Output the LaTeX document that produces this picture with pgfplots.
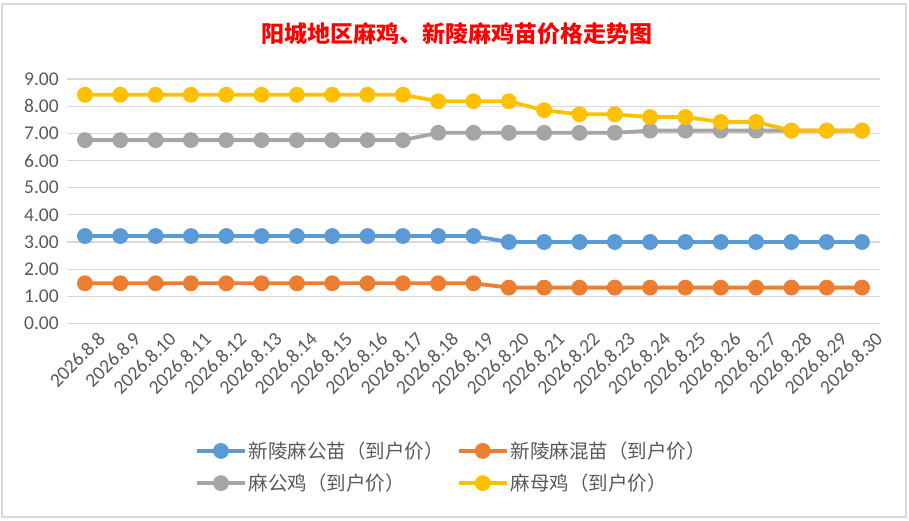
\documentclass[border=0pt]{standalone}
\usepackage{pgfplots}
\pgfplotsset{compat=1.18}
\usepackage{fontspec}
\setmainfont{Carlito}
\newfontfamily\cjk{Noto Sans CJK SC}
\definecolor{cblue}{HTML}{5B9BD5}
\definecolor{corange}{HTML}{ED7D31}
\definecolor{cgray}{HTML}{A5A5A5}
\definecolor{cgold}{HTML}{FFC000}
\definecolor{gridc}{HTML}{D9D9D9}
\definecolor{ticklab}{HTML}{595959}
\begin{document}
\begin{tikzpicture}[x=1pt,y=1pt]
\path (0,0) rectangle (909,521);
\draw[color=gridc, line width=1.5pt] (2,4) rectangle (906,517);
\node[font=\cjk\bfseries\fontsize{23}{23}\selectfont, text=red] at (457,487) {阳城地区麻鸡、新陵麻鸡苗价格走势图};
\begin{axis}[at={(67.3pt,197.5pt)}, anchor=south west, scale only axis,
  width=812.4pt, height=244.5pt,
  xmin=-0.5, xmax=22.5, ymin=0, ymax=9,
  axis line style={draw=none},
  major tick length=0pt,
  ytick={0,1,...,9},
  yticklabel style={/pgf/number format/fixed, /pgf/number format/fixed zerofill, /pgf/number format/precision=2},
  y tick label style={xshift=-5pt},
  xtick={0,...,22},
  xticklabels={2026.8.8,2026.8.9,2026.8.10,2026.8.11,2026.8.12,2026.8.13,2026.8.14,2026.8.15,2026.8.16,2026.8.17,2026.8.18,2026.8.19,2026.8.20,2026.8.21,2026.8.22,2026.8.23,2026.8.24,2026.8.25,2026.8.26,2026.8.27,2026.8.28,2026.8.29,2026.8.30},
  x tick label style={rotate=45, anchor=north east, xshift=7pt, yshift=-10pt},
  tick label style={font=\fontsize{19.5}{19.5}\selectfont, text=ticklab},
  /pgf/number format/assume math mode=true,
  ymajorgrids, grid style={draw=gridc, line width=1.3pt},
  clip=false,
  every axis plot/.append style={line width=3.8pt, mark=*, mark size=6pt},
  legend columns=2,
  legend cell align=left,
  legend style={at={(0.157,-0.475)}, anchor=north west, draw=none, fill=none,
    font=\cjk\fontsize{19.5}{22}\selectfont, text=ticklab,
    /tikz/every even column/.append style={column sep=11pt},
    row sep=10pt, inner sep=0pt},
  legend image code/.code={\draw[mark repeat=2,mark phase=2,#1] plot coordinates {(0pt,0pt) (24pt,0pt) (48pt,0pt)};},
]
\addplot[color=cblue] coordinates {(0,3.22)(1,3.22)(2,3.22)(3,3.22)(4,3.22)(5,3.22)(6,3.22)(7,3.22)(8,3.22)(9,3.22)(10,3.22)(11,3.22)(12,3.0)(13,3.0)(14,3.0)(15,3.0)(16,3.0)(17,3.0)(18,3.0)(19,3.0)(20,3.0)(21,3.0)(22,3.0)};
\addlegendentry{新陵麻公苗（到户价）}
\addplot[color=corange] coordinates {(0,1.48)(1,1.48)(2,1.48)(3,1.48)(4,1.48)(5,1.48)(6,1.48)(7,1.48)(8,1.48)(9,1.48)(10,1.48)(11,1.48)(12,1.32)(13,1.32)(14,1.32)(15,1.32)(16,1.32)(17,1.32)(18,1.32)(19,1.32)(20,1.32)(21,1.32)(22,1.32)};
\addlegendentry{新陵麻混苗（到户价）}
\addplot[color=cgray] coordinates {(0,6.75)(1,6.75)(2,6.75)(3,6.75)(4,6.75)(5,6.75)(6,6.75)(7,6.75)(8,6.75)(9,6.75)(10,7.02)(11,7.02)(12,7.02)(13,7.02)(14,7.02)(15,7.02)(16,7.1)(17,7.1)(18,7.1)(19,7.1)(20,7.1)(21,7.1)(22,7.1)};
\addlegendentry{麻公鸡（到户价）}
\addplot[color=cgold] coordinates {(0,8.42)(1,8.42)(2,8.42)(3,8.42)(4,8.42)(5,8.42)(6,8.42)(7,8.42)(8,8.42)(9,8.42)(10,8.18)(11,8.18)(12,8.18)(13,7.85)(14,7.7)(15,7.7)(16,7.6)(17,7.6)(18,7.42)(19,7.42)(20,7.1)(21,7.1)(22,7.1)};
\addlegendentry{麻母鸡（到户价）}
\end{axis}
\end{tikzpicture}
\end{document}
